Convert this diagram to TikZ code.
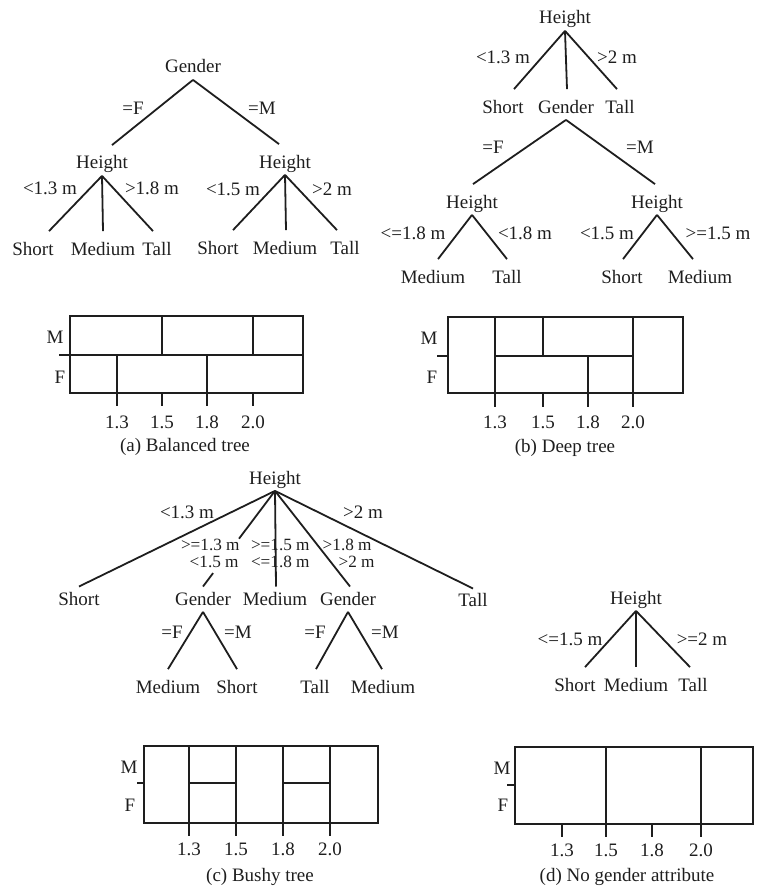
\documentclass[tikz,border=0pt]{standalone}
\usepackage{fontspec}
\setmainfont{Liberation Serif}
\usetikzlibrary{calc}
\definecolor{ink}{RGB}{30,30,30}
\begin{document}
\begin{tikzpicture}[x=0.5pt,y=-0.5pt,
  txt/.style={inner xsep=0pt, inner ysep=0.75pt, text height=1.1em, text depth=0.25em,
              anchor=base, font=\fontsize{9.5}{11.5}\selectfont, text=ink},
  pair/.style={inner sep=0pt, text height=0.6em, text depth=0.18em,
               anchor=base east, font=\fontsize{8.6}{10}\selectfont, text=ink},
  branch/.style={draw=ink, line width=0.9pt},
  gridline/.style={draw=ink, line width=0.9pt},
]
\useasboundingbox (0,0) rectangle (758,888);

% ---------- (a) balanced tree ----------
\node[txt] (gA)  at (193,73)  {Gender};
\node[txt] (hA1) at (102,169) {Height};
\node[txt] (hA2) at (285,168) {Height};
\draw[branch] (gA.south) -- ([xshift=5pt]hA1.north);
\draw[branch] (gA.south) -- ([xshift=-3pt]hA2.north);
\node[txt] (lAf) at (133,114) {=F};
\node[txt] (lAm) at (262,114) {=M};

\node[txt] (sA1) at (33,255)  {Short};
\node[txt] (mA1) at (103,255) {Medium};
\node[txt] (tA1) at (157,255) {Tall};
\draw[branch] (hA1.south) -- ([xshift=8pt]sA1.north);
\draw[branch] (hA1.south) -- (mA1.north);
\draw[branch] (hA1.south) -- ([xshift=-2pt]tA1.north);
\node[txt] (lA1) at (50,194)  {<1.3 m};
\node[txt] (lA2) at (152,194) {>1.8 m};

\node[txt] (sA2) at (218,254) {Short};
\node[txt] (mA2) at (285,254) {Medium};
\node[txt] (tA2) at (345,254) {Tall};
\draw[branch] (hA2.south) -- ([xshift=7.5pt]sA2.north);
\draw[branch] (hA2.south) -- ([xshift=0.5pt]mA2.north);
\draw[branch] (hA2.south) -- ([xshift=-4pt]tA2.north);
\node[txt] (lA3) at (233,195) {<1.5 m};
\node[txt] (lA4) at (332,195) {>2 m};

% grid (a)
\draw[gridline] (70,316) rectangle (303,393);
\draw[gridline] (59,355) -- (303,355);
\draw[gridline] (162,316) -- (162,355) (253,316) -- (253,355);
\draw[gridline] (117,355) -- (117,406) (207,355) -- (207,406);
\draw[gridline] (162,393) -- (162,406) (253,393) -- (253,406);
\node[txt] (gAm) at (55,343) {M};
\node[txt] (gAf) at (60,383) {F};
\node[txt] (tkA1) at (117,428) {1.3};
\node[txt] (tkA2) at (162,428) {1.5};
\node[txt] (tkA3) at (207,428) {1.8};
\node[txt] (tkA4) at (253,428) {2.0};
\node[txt] (capA) at (185,451) {(a) Balanced tree};

% ---------- (b) deep tree ----------
\node[txt] (hB) at (565,24)  {Height};
\node[txt] (sB) at (503,113) {Short};
\node[txt] (gB) at (566,113) {Gender};
\node[txt] (tB) at (620,113) {Tall};
\draw[branch] (hB.south) -- ([xshift=5.5pt]sB.north);
\draw[branch] (hB.south) -- ([xshift=0.5pt]gB.north);
\draw[branch] (hB.south) -- ([xshift=-1.5pt]tB.north);
\node[txt] (lB1) at (503,64) {<1.3 m};
\node[txt] (lB2) at (617,64) {>2 m};

\node[txt] (hB1) at (472,208) {Height};
\node[txt] (hB2) at (657,208) {Height};
\draw[branch] (gB.south) -- ([xshift=0.5pt]hB1.north);
\draw[branch] (gB.south) -- ([xshift=-1pt]hB2.north);
\node[txt] (lB3) at (493,153) {=F};
\node[txt] (lB4) at (640,153) {=M};

\node[txt] (mB1) at (433,283) {Medium};
\node[txt] (tB1) at (507,283) {Tall};
\node[txt] (sB2) at (622,283) {Short};
\node[txt] (mB2) at (700,283) {Medium};
\draw[branch] (hB1.south) -- ([xshift=2.5pt]mB1.north);
\draw[branch] (hB1.south) -- (tB1.north);
\draw[branch] (hB2.south) -- ([xshift=0.5pt]sB2.north);
\draw[branch] (hB2.south) -- ([xshift=-3.5pt]mB2.north);
\node[txt] (lB5) at (413,239) {<=1.8 m};
\node[txt] (lB6) at (525,239) {<1.8 m};
\node[txt] (lB7) at (607,239) {<1.5 m};
\node[txt] (lB8) at (718,239) {>=1.5 m};

% grid (b)
\draw[gridline] (448,317) rectangle (683,393);
\draw[gridline] (437,356) -- (448,356);
\draw[gridline] (495,356) -- (633,356);
\draw[gridline] (495,317) -- (495,407) (633,317) -- (633,407);
\draw[gridline] (543,317) -- (543,356) (543,393) -- (543,407);
\draw[gridline] (588,356) -- (588,407);
\node[txt] (gBm) at (429,344) {M};
\node[txt] (gBf) at (432,383) {F};
\node[txt] (tkB1) at (495,428) {1.3};
\node[txt] (tkB2) at (543,428) {1.5};
\node[txt] (tkB3) at (588,428) {1.8};
\node[txt] (tkB4) at (633,428) {2.0};
\node[txt] (capB) at (565,452) {(b) Deep tree};

% ---------- (c) bushy tree ----------
\node[txt] (hC)  at (275,484) {Height};
\node[txt] (sC)  at (79,605)  {Short};
\node[txt] (gC1) at (203,605) {Gender};
\node[txt] (mC)  at (275,605) {Medium};
\node[txt] (gC2) at (348,605) {Gender};
\node[txt] (tC)  at (473,606) {Tall};
\coordinate (gC1top) at ([yshift=-2.7pt]gC1.north);
\draw[branch] (hC.south) -- ([yshift=-2.7pt]sC.north);
% this branch is broken where its two labels sit on it
\draw[branch] (hC.south) -- ($(hC.south)!0.50!(gC1top)$)
              ($(hC.south)!0.86!(gC1top)$) -- (gC1top);
\draw[branch] (hC.south) -- ([xshift=0.5pt,yshift=-2.7pt]mC.north);
\draw[branch] (hC.south) -- ([xshift=1pt,yshift=-2.7pt]gC2.north);
\draw[branch] (hC.south) -- ([yshift=-3.2pt]tC.north);
\node[txt] (lC1) at (187,518) {<1.3 m};
\node[txt] (lC2) at (363,518) {>2 m};
\node[pair] (lC3) at (240,550) {>=1.3 m};
\node[pair] (lC4) at (239,567) {<1.5 m};
\node[pair] (lC5) at (310,550) {>=1.5 m};
\node[pair] (lC6) at (310,567) {<=1.8 m};
\node[pair] (lC7) at (372,550) {>1.8 m};
\node[pair] (lC8) at (375,567) {>2 m};

\node[txt] (mC1) at (168,693) {Medium};
\node[txt] (sC1) at (237,693) {Short};
\draw[branch] (gC1.south) -- (mC1.north);
\draw[branch] (gC1.south) -- (sC1.north);
\node[txt] (lC9)  at (172,638) {=F};
\node[txt] (lC10) at (238,638) {=M};

\node[txt] (tC2) at (315,693) {Tall};
\node[txt] (mC2) at (383,693) {Medium};
\draw[branch] (gC2.south) -- ([xshift=0.5pt]tC2.north);
\draw[branch] (gC2.south) -- ([xshift=-0.5pt]mC2.north);
\node[txt] (lC11) at (315,638) {=F};
\node[txt] (lC12) at (385,638) {=M};

% grid (c)
\draw[gridline] (144,746) rectangle (378,823);
\draw[gridline] (137,783) -- (144,783);
\draw[gridline] (189,746) -- (189,836) (236,746) -- (236,836)
                (283,746) -- (283,836) (330,746) -- (330,836);
\draw[gridline] (189,783) -- (236,783) (283,783) -- (330,783);
\node[txt] (gCm) at (129,773) {M};
\node[txt] (gCf) at (130,811) {F};
\node[txt] (tkC1) at (189,855) {1.3};
\node[txt] (tkC2) at (236,855) {1.5};
\node[txt] (tkC3) at (283,855) {1.8};
\node[txt] (tkC4) at (330,855) {2.0};
\node[txt] (capC) at (260,881) {(c) Bushy tree};

% ---------- (d) no gender attribute ----------
\node[txt] (hD) at (636,604) {Height};
\node[txt] (sD) at (575,691) {Short};
\node[txt] (mD) at (636,691) {Medium};
\node[txt] (tD) at (693,691) {Tall};
\draw[branch] (hD.south) -- ([xshift=5pt]sD.north);
\draw[branch] (hD.south) -- (mD.north);
\draw[branch] (hD.south) -- ([xshift=-1.5pt]tD.north);
\node[txt] (lD1) at (570,645) {<=1.5 m};
\node[txt] (lD2) at (702,645) {>=2 m};

% grid (d)
\draw[gridline] (515,747) rectangle (753,824);
\draw[gridline] (507,785) -- (515,785);
\draw[gridline] (606,747) -- (606,837) (701,747) -- (701,837);
\draw[gridline] (562,824) -- (562,837) (652,824) -- (652,837);
\node[txt] (gDm) at (502,774) {M};
\node[txt] (gDf) at (503,811) {F};
\node[txt] (tkD1) at (562,856) {1.3};
\node[txt] (tkD2) at (606,856) {1.5};
\node[txt] (tkD3) at (652,856) {1.8};
\node[txt] (tkD4) at (701,856) {2.0};
\node[txt] (capD) at (627,881) {(d) No gender attribute};
\end{tikzpicture}
\end{document}
